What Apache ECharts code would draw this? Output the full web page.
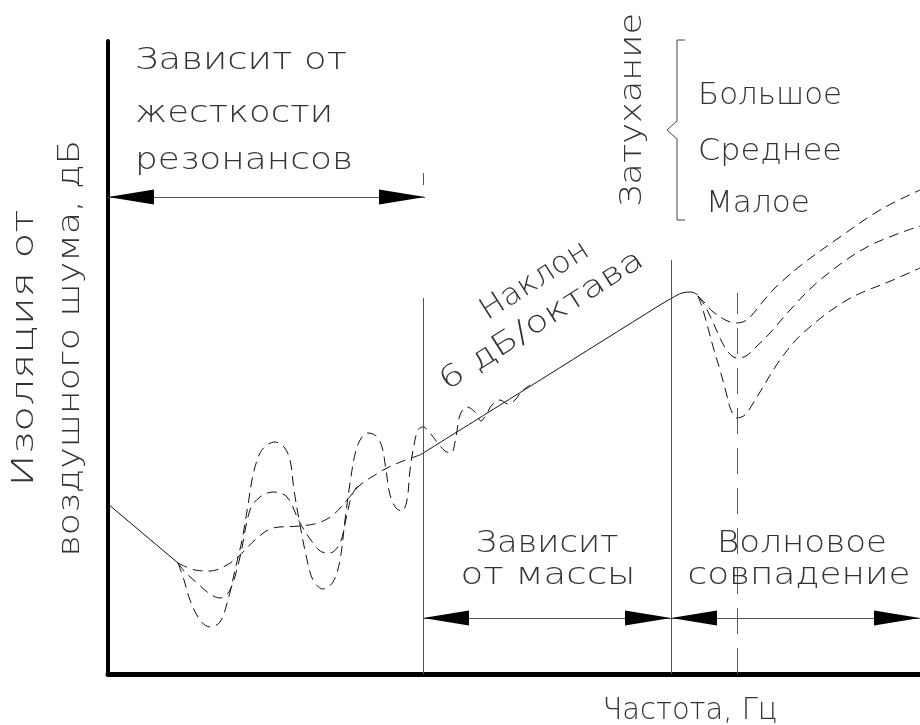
<!DOCTYPE html>
<html>
<head>
<meta charset="utf-8">
<script src="https://cdn.jsdelivr.net/npm/echarts@6/dist/echarts.min.js"></script>
<style>
html,body{margin:0;padding:0;background:#fff;}
#chart{width:920px;height:725px;}
</style>
</head>
<body>
<div id="chart"></div>
<script>
// ---- Data (relative frequency on x, relative insulation on y) ----
// Solid trend: region controlled by stiffness (start) and mass law (6 dB/octave)
const trendStart = [[0,170],[70,111]];
const massLaw = [[312,219],[437,297],[552,369],[564,376],[574,381],[583,382],[590,379]];

// Resonance region: three damping levels
const resonanceHighDamping = [[70,111],[87,104],[102,103],[117,108],[130,117],[147,134],[165,146],[192,148],[210,151],[225,159],[239,174],[252,189],[267,199],[279,206],[295,213],[312,219]];
const resonanceMidDamping = [[70,111],[77,102],[89,91],[102,80],[112,76],[122,84],[132,117],[142,164],[152,177],[165,182],[179,177],[192,151],[205,131],[214,122],[222,121],[232,131],[238,155],[243,176],[248,186],[254,191]];
const resonanceLowDamping = [[70,111],[76,94],[82,74],[92,54],[102,47],[112,52],[120,74],[127,104],[134,134],[140,169],[145,199],[152,221],[159,229],[167,232],[176,227],[182,214],[186,184],[192,149],[198,119],[205,94],[215,85],[225,92],[232,114],[237,154],[242,191],[248,224],[254,237],[260,241],[268,238],[274,227],[278,204],[282,179],[288,166],[294,163],[299,174],[302,204],[306,229],[310,244],[315,247],[322,241],[329,232],[337,223],[343,221],[348,237],[352,259],[359,267],[367,262],[373,253],[379,261],[384,269],[392,274],[400,270],[407,274],[414,283],[422,289]];

// Coincidence region: three damping levels
const coincHighDamping = [[590,378],[597,371],[604,363],[614,356],[622,352],[629,351],[637,353],[644,359],[652,369],[667,386],[692,408],[732,437],[772,464],[812,484]];
const coincMidDamping = [[590,378],[597,368],[604,354],[612,336],[620,322],[629,316],[638,318],[648,327],[662,341],[682,364],[712,394],[759,427],[812,448]];
const coincLowDamping = [[590,378],[595,364],[600,346],[606,324],[612,304],[618,282],[623,264],[629,256],[637,259],[644,269],[652,282],[672,314],[695,341],[739,374],[785,394],[812,406]];

// Region boundaries (x) and their heights
const massStartX = 315, massStartTop = 376;
const coincStartX = 563, coincStartTop = 414;
const coincFreqX = 629, coincFreqTop = 381;
const xMax = 812, yMax = 633;
const stiffArrowY = 477, lowerArrowY = 56;

// Dimension arrows: [from x, to x, y]
const dimArrows = [
  [0, massStartX + 2, stiffArrowY],
  [massStartX, coincStartX, lowerArrowY],
  [coincStartX, xMax, lowerArrowY]
];

// ---- Text annotations ----
const labels = [
  {text:'Зависит от', x:241, y:61, w:212, rot:0},
  {text:'жесткости', x:234, y:114, w:198, rot:0},
  {text:'резонансов', x:244, y:161, w:218, rot:0},
  {text:'Наклон', x:535, y:281, w:123, rot:32.5},
  {text:'6 дБ/октава', x:542, y:321, w:236, rot:32.5},
  {text:'Затухание', x:633, y:110, w:194, rot:90},
  {text:'Большое', x:770, y:96, w:144, rot:0},
  {text:'Среднее', x:770, y:152, w:144, rot:0},
  {text:'Малое', x:758, y:204, w:104, rot:0},
  {text:'Зависит', x:547, y:544, w:143, rot:0},
  {text:'от массы', x:548, y:576, w:175, rot:0},
  {text:'Волновое', x:802, y:544, w:170, rot:0},
  {text:'совпадение', x:799, y:576, w:223, rot:0},
  {text:'Частота, Гц', x:690, y:711, w:175, rot:0},
  {text:'Изоляция от', x:25, y:348, w:277, rot:90},
  {text:'воздушного шума, дБ', x:71, y:348, w:417, rot:90}
];

const FONT_SIZE = 30, FONT_FAMILY = 'DejaVu Sans', FONT_WEIGHT = 200, TEXT_COLOR = '#333';
const mctx = document.createElement('canvas').getContext('2d');
mctx.font = FONT_WEIGHT + ' ' + FONT_SIZE + 'px "' + FONT_FAMILY + '"';

const textElements = labels.map(function (a) {
  const mw = mctx.measureText(a.text).width;
  return {
    type: 'text', x: a.x, y: a.y, rotation: a.rot * Math.PI / 180,
    scaleX: a.w / mw, silent: true, z: 10,
    style: {
      text: a.text, fontSize: FONT_SIZE, fontFamily: FONT_FAMILY, fontWeight: FONT_WEIGHT,
      fill: TEXT_COLOR, align: 'center', verticalAlign: 'middle',
      textAlign: 'center', textVerticalAlign: 'middle'
    }
  };
});

const brace = {
  type: 'polyline', silent: true,
  shape: {points: [[685,40],[677,40],[677,121],[667,130],[677,139],[677,220],[685,220]]},
  style: {stroke: '#444', lineWidth: 1, fill: null}
};

// arrowhead with its tip at the symbol centre (invisible move-to extends the box)
const arrowPath = 'path://M10,0 M10,46 L20,92 L0,92 Z';
const arrowHeads = [];
dimArrows.forEach(function (a) {
  arrowHeads.push({value:[a[0], a[2]], symbolRotate: 90});
  arrowHeads.push({value:[a[1], a[2]], symbolRotate: -90});
});

const curveStyle = {color:'#111', width:1, type:[10,6]};
function dashed(name, data) {
  return {name:name, type:'line', data:data, showSymbol:false, smooth:0.35,
    lineStyle:curveStyle, silent:true, animation:false, z:3};
}

const chart = echarts.init(document.getElementById('chart'), null, {renderer:'canvas'});
chart.setOption({
  backgroundColor: '#fff',
  animation: false,
  grid: {left:108, right:0, top:41, bottom:51, containLabel:false},
  xAxis: {type:'value', min:0, max:xMax,
    axisLine:{show:true, onZero:false, lineStyle:{color:'#000', width:5}},
    axisTick:{show:false}, axisLabel:{show:false}, splitLine:{show:false}},
  yAxis: {type:'value', min:0, max:yMax,
    axisLine:{show:true, onZero:false, lineStyle:{color:'#000', width:4}},
    axisTick:{show:false}, axisLabel:{show:false}, splitLine:{show:false}},
  graphic: {elements: textElements.concat([brace])},
  series: [
    {name:'trendStart', type:'line', data:trendStart, showSymbol:false,
      lineStyle:{color:'#111', width:1}, silent:true, z:3,
      markLine:{silent:true, symbol:'none', label:{show:false}, animation:false,
        lineStyle:{color:'#555', width:1, type:'solid'},
        data:[
          [{coord:[massStartX,0]},{coord:[massStartX,massStartTop]}],
          [{coord:[massStartX,489]},{coord:[massStartX,501]}],
          [{coord:[coincStartX,0]},{coord:[coincStartX,coincStartTop]}],
          [{coord:[coincFreqX,0], lineStyle:{type:[26,14]}},{coord:[coincFreqX,coincFreqTop]}]
        ].concat(dimArrows.map(function (a) {
          return [{coord:[a[0], a[2]]},{coord:[a[1], a[2]]}];
        }))}},
    {name:'massLaw', type:'line', data:massLaw, showSymbol:false, smooth:0.3,
      lineStyle:{color:'#111', width:1}, silent:true, z:3},
    {name:'arrowHeads', type:'scatter', data:arrowHeads, symbol:arrowPath,
      symbolSize:[15,92], itemStyle:{color:'#000', opacity:1}, silent:true, z:5},
    dashed('resonanceHigh', resonanceHighDamping),
    dashed('resonanceMid', resonanceMidDamping),
    dashed('resonanceLow', resonanceLowDamping),
    dashed('coincHigh', coincHighDamping),
    dashed('coincMid', coincMidDamping),
    dashed('coincLow', coincLowDamping)
  ]
});
</script>
</body>
</html>
